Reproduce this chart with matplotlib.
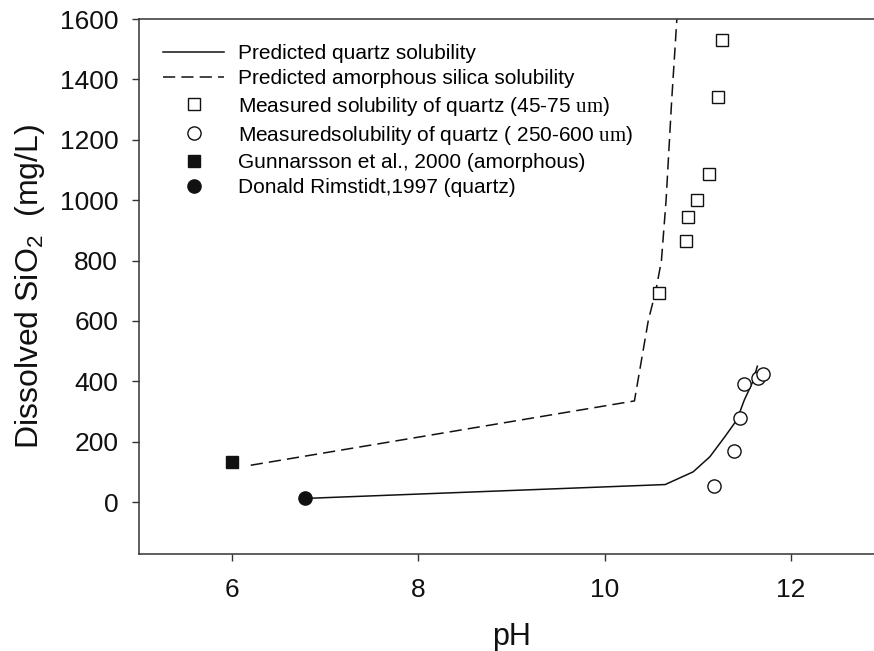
import matplotlib
matplotlib.use("Agg")
import matplotlib.pyplot as plt

plt.rcParams['font.family'] = ['Liberation Sans', 'DejaVu Sans']
plt.rcParams['mathtext.fontset'] = 'custom'
plt.rcParams['mathtext.rm'] = 'Liberation Serif'
plt.rcParams['mathtext.sf'] = 'Liberation Sans'

# predicted curves
quartz_ph = [6.78, 10.65, 10.95, 11.13, 11.29, 11.42, 11.50, 11.59, 11.64]
quartz_si = [12, 58, 100, 150, 216, 272, 338, 398, 450]

amorph_ph = [6.2, 10.32, 10.47, 10.55, 10.61, 10.66, 10.72, 10.78]
amorph_si = [122, 335, 603, 700, 800, 1000, 1330, 1620]

# measured, 45-75 um
fine_ph = [10.58, 10.87, 10.89, 10.99, 11.12, 11.22, 11.26]
fine_si = [692, 864, 944, 1000, 1086, 1341, 1530]

# measured, 250-600 um
coarse_ph = [11.17, 11.39, 11.45, 11.50, 11.65, 11.70]
coarse_si = [54, 169, 277, 390, 410, 424]

gunnarsson_ph, gunnarsson_si = [6.0], [133]
rimstidt_ph, rimstidt_si = [6.78], [12]

xticks = [6, 8, 10, 12]
yticks = [0, 200, 400, 600, 800, 1000, 1200, 1400, 1600]

fig = plt.figure(figsize=(8.74, 6.51), dpi=100)
ax = fig.add_axes([139 / 874, 1 - 554 / 651, 745 / 874, 535 / 651])

ax.plot(quartz_ph, quartz_si, color='#111111', lw=1.1, label='Predicted quartz solubility')
ax.plot(amorph_ph, amorph_si, color='#111111', lw=1.1, dashes=(8, 4),
        label='Predicted amorphous silica solubility')
ax.plot(fine_ph, fine_si, ls='none', marker='s', ms=8.5, mfc='white', mec='#111111', mew=1.0,
        label='Measured solubility of quartz (45-75 $\\mathrm{um}$)')
ax.plot(coarse_ph, coarse_si, ls='none', marker='o', ms=9.5, mfc='white', mec='#111111', mew=1.0,
        label='Measuredsolubility of quartz ( 250-600 $\\mathrm{um}$)')
ax.plot(gunnarsson_ph, gunnarsson_si, ls='none', marker='s', ms=8.5, color='#111111',
        label='Gunnarsson et al., 2000 (amorphous)')
ax.plot(rimstidt_ph, rimstidt_si, ls='none', marker='o', ms=9.5, color='#111111',
        label='Donald Rimstidt,1997 (quartz)')

ax.set_xlim(5, 13)
ax.set_ylim(-172, 1600)
ax.set_xticks(xticks)
ax.set_yticks(yticks)

for side in ['left', 'bottom', 'top', 'right']:
    ax.spines[side].set_linewidth(1.1)
    ax.spines[side].set_color('#333333')

ax.tick_params(axis='both', direction='out', length=5, width=1.0, color='#333333',
               labelsize=19, labelcolor='#111111')
ax.tick_params(axis='y', pad=10)
ax.tick_params(axis='x', pad=12)

ax.set_xlabel('pH', fontsize=22, color='#111111', labelpad=15)
ax.set_ylabel('Dissolved SiO$_\\mathsf{2}$  (mg/L)', fontsize=23, color='#111111', labelpad=9)

ax.legend(loc='upper left', bbox_to_anchor=(163 / 874, 1 - 44 / 651),
          bbox_transform=fig.transFigure, frameon=False, fontsize=15,
          handlelength=2.93, handletextpad=0.67, labelspacing=0.3, numpoints=1,
          markerscale=1.0, borderpad=0, borderaxespad=0)

fig.savefig('out.png', dpi=100)
